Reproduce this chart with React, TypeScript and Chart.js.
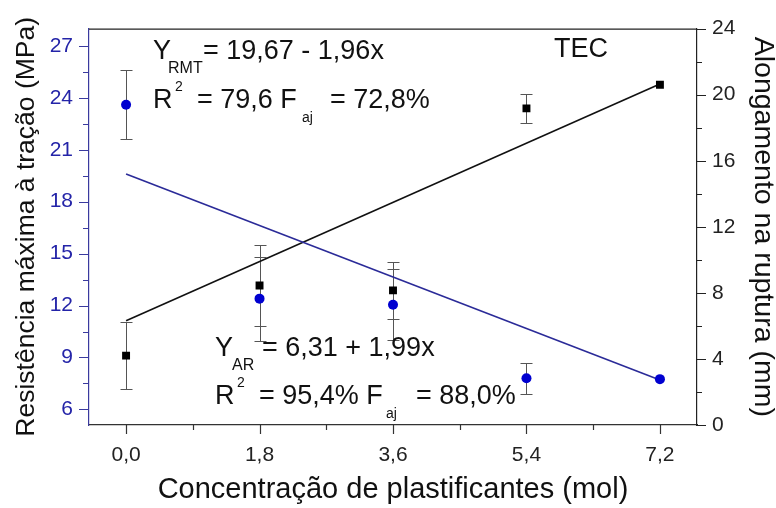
import { useEffect, useRef } from "react";
import { Chart, registerables } from "chart.js";

Chart.register(...registerables);

// Plasticizer concentration (mol)
const concentracao = [0, 1.8, 3.6, 5.4, 7.2];
// Maximum tensile strength (MPa) and its standard deviation
const resistencia = [23.6, 12.4, 12.05, 7.8, 7.75];
const resistenciaErro = [2.0, 2.42, 2.04, 0.9, 0];
// Elongation at break (mm) and its standard deviation
const alongamento = [4.2, 8.45, 8.15, 19.17, 20.6];
const alongamentoErro = [2.05, 2.44, 1.73, 0.9, 0];
// Linear fits
const ajusteX = [0, 7.2];
const ajusteResistencia = [19.6, 7.7];
const ajusteAlongamento = [6.31, 20.64];

// Axis ticks
const xTicks = [0, 1.8, 3.6, 5.4, 7.2];
const xMinor = [0.9, 2.7, 4.5, 6.3];
const yTicks = [6, 9, 12, 15, 18, 21, 24, 27];
const yMinor = [7.5, 10.5, 13.5, 16.5, 19.5, 22.5, 25.5];
const y1Ticks = [0, 4, 8, 12, 16, 20, 24];
const y1Minor = [2, 6, 10, 14, 18, 22];

const FONT = "'Liberation Sans', Arial, sans-serif";
const BLUE_TEXT = "#2424a8";
const BLUE_AXIS = "#3a3a9e";
const BLUE_MARK = "#0000d0";
const BLUE_LINE = "#2b2b98";

type Seg = { t: string; x: number; y: number; s: number };

// Regression equations and the sample label
const anotacoes: Seg[] = [
  { t: "Y", x: 153, y: 59, s: 27 },
  { t: "RMT", x: 168, y: 73, s: 16 },
  { t: "= 19,67 - 1,96x", x: 203, y: 59, s: 27 },
  { t: "R", x: 153, y: 108, s: 27 },
  { t: "2", x: 175, y: 91, s: 14 },
  { t: "= 79,6 F", x: 197, y: 108, s: 27 },
  { t: "aj", x: 302, y: 122, s: 14 },
  { t: "= 72,8%", x: 330, y: 108, s: 27 },
  { t: "TEC", x: 554, y: 57, s: 27 },
  { t: "Y", x: 215, y: 356, s: 27 },
  { t: "AR", x: 232, y: 370, s: 16 },
  { t: "= 6,31 + 1,99x", x: 262, y: 356, s: 27 },
  { t: "R", x: 215, y: 404, s: 27 },
  { t: "2", x: 237, y: 387, s: 14 },
  { t: "= 95,4% F", x: 259, y: 404, s: 27 },
  { t: "aj", x: 386, y: 418, s: 14 },
  { t: "= 88,0%", x: 416, y: 404, s: 27 },
];

const errorBars = {
  id: "errorBars",
  beforeDatasetsDraw(chart: any) {
    const { ctx } = chart;
    const x = chart.scales.x;
    const series = [
      { scale: chart.scales.y, v: resistencia, e: resistenciaErro },
      { scale: chart.scales.y1, v: alongamento, e: alongamentoErro },
    ];
    ctx.save();
    ctx.strokeStyle = "#555";
    ctx.lineWidth = 1;
    for (const s of series) {
      concentracao.forEach((c, i) => {
        if (!s.e[i]) return;
        const px = Math.round(x.getPixelForValue(c)) + 0.5;
        const top = Math.round(s.scale.getPixelForValue(s.v[i] + s.e[i])) + 0.5;
        const bot = Math.round(s.scale.getPixelForValue(s.v[i] - s.e[i])) + 0.5;
        ctx.beginPath();
        ctx.moveTo(px, top);
        ctx.lineTo(px, bot);
        ctx.moveTo(px - 6, top);
        ctx.lineTo(px + 6, top);
        ctx.moveTo(px - 6, bot);
        ctx.lineTo(px + 6, bot);
        ctx.stroke();
      });
    }
    ctx.restore();
  },
};

const tickMarks = {
  id: "tickMarks",
  afterDraw(chart: any) {
    const { ctx, chartArea } = chart;
    const { x, y, y1 } = chart.scales;
    ctx.save();
    ctx.lineWidth = 1.2;
    // frame top edge
    ctx.strokeStyle = "#222";
    ctx.beginPath();
    ctx.moveTo(chartArea.left, chartArea.top + 0.5);
    ctx.lineTo(chartArea.right, chartArea.top + 0.5);
    ctx.stroke();

    const drawX = (vals: number[], len: number) => {
      ctx.strokeStyle = "#333";
      ctx.beginPath();
      for (const v of vals) {
        const px = Math.round(x.getPixelForValue(v)) + 0.5;
        ctx.moveTo(px, chartArea.bottom);
        ctx.lineTo(px, chartArea.bottom + len);
      }
      ctx.stroke();
    };
    const drawY = (scale: any, vals: number[], len: number, edge: number, dir: number, color: string) => {
      ctx.strokeStyle = color;
      ctx.beginPath();
      for (const v of vals) {
        const py = Math.round(scale.getPixelForValue(v)) + 0.5;
        ctx.moveTo(edge, py);
        ctx.lineTo(edge + dir * len, py);
      }
      ctx.stroke();
    };
    drawX(xTicks, 9);
    drawX(xMinor, 5);
    drawY(y, yTicks, 10, chartArea.left, -1, BLUE_AXIS);
    drawY(y, yMinor, 6, chartArea.left, -1, BLUE_AXIS);
    drawY(y1, y1Ticks, 9, chartArea.right, 1, "#222");
    drawY(y1, y1Minor, 5, chartArea.right, 1, "#222");
    ctx.restore();
  },
};

const textLayer = {
  id: "textLayer",
  afterDraw(chart: any) {
    const { ctx } = chart;
    ctx.save();
    ctx.fillStyle = "#111";
    ctx.textAlign = "left";
    ctx.textBaseline = "alphabetic";
    for (const a of anotacoes) {
      ctx.font = `${a.s}px ${FONT}`;
      ctx.fillText(a.t, a.x, a.y);
    }
    ctx.restore();
  },
};

const toPoints = (xs: number[], ys: number[]) => xs.map((v, i) => ({ x: v, y: ys[i] }));
const fmt = (v: number) => v.toFixed(1).replace(".", ",");

export default function App() {
  const canvasRef = useRef<HTMLCanvasElement | null>(null);

  useEffect(() => {
    if (!canvasRef.current) return;
    const chart = new Chart(canvasRef.current, {
      type: "scatter",
      data: {
        datasets: [
          {
            label: "Resistência",
            data: toPoints(concentracao, resistencia),
            yAxisID: "y",
            pointStyle: "circle",
            pointRadius: 5,
            backgroundColor: BLUE_MARK,
            borderColor: BLUE_MARK,
            borderWidth: 0,
            order: 0,
          },
          {
            label: "Alongamento",
            data: toPoints(concentracao, alongamento),
            yAxisID: "y1",
            pointStyle: "rect",
            pointRadius: 5.6,
            backgroundColor: "#000",
            borderColor: "#000",
            borderWidth: 0,
            order: 0,
          },
          {
            label: "Ajuste resistência",
            data: toPoints(ajusteX, ajusteResistencia),
            yAxisID: "y",
            showLine: true,
            pointRadius: 0,
            borderColor: BLUE_LINE,
            borderWidth: 1.6,
            order: 1,
          },
          {
            label: "Ajuste alongamento",
            data: toPoints(ajusteX, ajusteAlongamento),
            yAxisID: "y1",
            showLine: true,
            pointRadius: 0,
            borderColor: "#111",
            borderWidth: 1.6,
            order: 1,
          },
        ],
      },
      options: {
        animation: false,
        responsive: true,
        maintainAspectRatio: false,
        layout: { padding: { top: 21, left: 0, right: 0, bottom: 0 } },
        plugins: { legend: { display: false }, tooltip: { enabled: false } },
        scales: {
          x: {
            type: "linear",
            min: -0.5,
            max: 7.7,
            grid: { display: false, drawTicks: false },
            border: { display: true, color: "#333", width: 1.2 },
            afterBuildTicks: (axis: any) => {
              axis.ticks = xTicks.map((v) => ({ value: v }));
            },
            afterFit: (axis: any) => {
              axis.height = 83;
            },
            ticks: {
              padding: 18,
              color: "#222",
              font: { family: FONT, size: 21 },
              maxRotation: 0,
              callback: (v: any) => fmt(Number(v)),
            },
            title: {
              display: true,
              text: "Concentração de plastificantes (mol)",
              color: "#111",
              font: { family: FONT, size: 29, lineHeight: 1 },
              padding: { top: 0, bottom: 4 },
            },
          },
          y: {
            type: "linear",
            position: "left",
            min: 5.1,
            max: 28,
            grid: { display: false, drawTicks: false },
            border: { display: true, color: BLUE_AXIS, width: 1.2 },
            afterBuildTicks: (axis: any) => {
              axis.ticks = yTicks.map((v) => ({ value: v }));
            },
            afterFit: (axis: any) => {
              axis.width = 89;
            },
            ticks: {
              padding: 16,
              color: BLUE_TEXT,
              font: { family: FONT, size: 21 },
              callback: (v: any) => String(v),
            },
            title: {
              display: true,
              text: "Resistência máxima à tração (MPa)",
              color: "#111",
              font: { family: FONT, size: 26.5, lineHeight: 1 },
              padding: { top: 13, bottom: 0 },
            },
          },
          y1: {
            type: "linear",
            position: "right",
            min: 0,
            max: 24,
            grid: { display: false, drawTicks: false },
            border: { display: true, color: "#222", width: 1.2 },
            afterBuildTicks: (axis: any) => {
              axis.ticks = y1Ticks.map((v) => ({ value: v }));
            },
            afterFit: (axis: any) => {
              axis.width = 79;
            },
            ticks: {
              padding: 15,
              color: "#222",
              font: { family: FONT, size: 21 },
              callback: (v: any) => String(v),
            },
            title: {
              display: true,
              text: "Alongamento na ruptura (mm)",
              color: "#111",
              font: { family: FONT, size: 28.5, lineHeight: 1 },
              padding: { top: -1, bottom: 0 },
            },
          },
        },
      },
      plugins: [errorBars, tickMarks, textLayer],
    });
    return () => chart.destroy();
  }, []);

  return (
    <div
      style={{
        position: "fixed",
        left: 0,
        top: 0,
        width: 776,
        height: 508,
        background: "#fff",
      }}
    >
      <canvas ref={canvasRef} />
    </div>
  );
}
